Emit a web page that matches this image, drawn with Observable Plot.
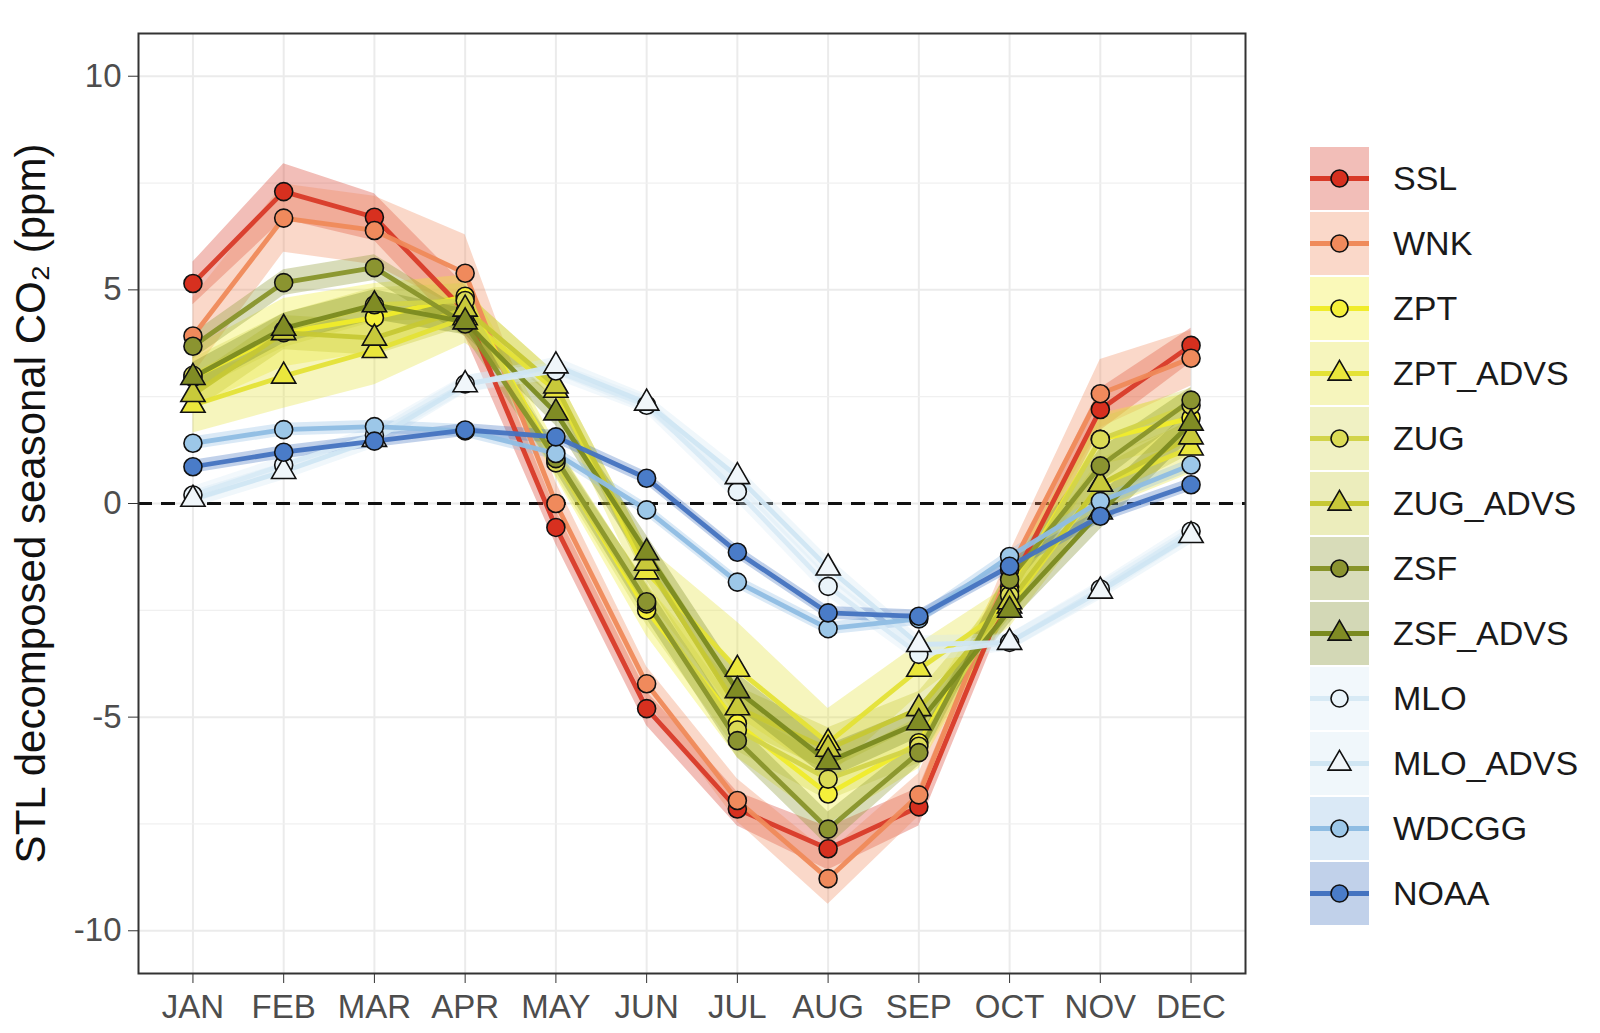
<!DOCTYPE html>
<html>
<head>
<meta charset="utf-8">
<script src="https://cdn.jsdelivr.net/npm/d3@7"></script>
<script src="https://cdn.jsdelivr.net/npm/@observablehq/plot@0.6"></script>
<style>
  html, body { margin: 0; padding: 0; background: white; }
  #wrap { position: relative; width: 1600px; height: 1033px; font-family: "Liberation Sans", Arial, sans-serif; }
  #legend { position: absolute; left: 1310px; top: 146px; }
  .row { display: flex; align-items: center; height: 65px; }
  .row span { margin-left: 24px; font-size: 34px; color: #1a1a1a; }
</style>
</head>
<body>
<div id="wrap"><div id="legend"></div></div>
<script>
// ---- data ----
const months = ["JAN","FEB","MAR","APR","MAY","JUN","JUL","AUG","SEP","OCT","NOV","DEC"];
const seriesNames = ["SSL","WNK","ZPT","ZPT_ADVS","ZUG","ZUG_ADVS","ZSF","ZSF_ADVS","MLO","MLO_ADVS","WDCGG","NOAA"];
const yTicks = [-10, -5, 0, 5, 10];
const yMinor = [-7.5, -2.5, 2.5, 7.5];

const SSL      = [5.15, 7.30, 6.70, 4.50, -0.56, -4.80, -7.15, -8.08, -7.10, -1.95, 2.20, 3.70];
const WNK      = [3.92, 6.68, 6.39, 5.39,  0.00, -4.22, -6.95, -8.78, -6.82, -1.55, 2.57, 3.40];
const ZPT      = [2.95, 4.00, 4.35, 4.85,  1.00, -2.50, -5.15, -6.80, -5.60, -2.05, 1.50, 2.00];
const ZPT_ADVS = [2.30, 2.98, 3.58, 4.35,  2.65, -1.60, -3.88, -5.60, -3.88, -2.40, 0.45, 1.30];
const ZUG      = [3.00, 4.05, 4.65, 4.75,  0.95, -2.35, -5.30, -6.45, -5.68, -2.15, 1.50, 2.30];
const ZUG_ADVS = [2.55, 4.00, 3.87, 4.55,  2.75, -1.40, -4.78, -5.75, -4.80, -2.30, 0.45, 1.56];
const ZSF      = [3.68, 5.17, 5.52, 4.20,  1.05, -2.30, -5.55, -7.62, -5.83, -1.78, 0.88, 2.42];
const ZSF_ADVS = [2.95, 4.10, 4.65, 4.25,  2.12, -1.15, -4.38, -6.05, -5.13, -2.50, -0.20, 1.88];
const MLO      = [0.20, 0.90, 1.60, 2.80,  3.10,  2.30,  0.28, -1.94, -3.53, -3.25, -2.00, -0.65];
const MLO_ADVS = [0.10, 0.75, 1.50, 2.78,  3.22,  2.35,  0.63, -1.51, -3.30, -3.25, -2.05, -0.75];
const WDCGG    = [1.41, 1.73, 1.80, 1.70,  1.17, -0.15, -1.84, -2.93, -2.70, -1.24, 0.05, 0.90];
const NOAA     = [0.86, 1.20, 1.46, 1.72,  1.56,  0.59, -1.14, -2.56, -2.64, -1.47, -0.30, 0.44];

// half-width of the shaded uncertainty band
const SSL_w      = [0.50, 0.65, 0.55, 0.60, 0.40, 0.40, 0.40, 0.50, 0.45, 0.40, 0.50, 0.40];
const WNK_w      = [0.90, 0.80, 0.80, 0.90, 0.50, 0.40, 0.50, 0.60, 0.50, 0.40, 0.80, 0.65];
const ZPT_w      = [0.70, 0.80, 0.80, 0.50, 0.40, 0.60, 0.80, 0.70, 0.60, 0.50, 0.60, 0.60];
const ZPT_ADVS_w = [0.65, 0.75, 0.80, 0.60, 0.40, 0.60, 1.10, 0.80, 0.60, 0.50, 0.60, 0.60];
const ZUG_w      = [0.40, 0.40, 0.40, 0.40, 0.30, 0.50, 0.50, 0.50, 0.40, 0.40, 0.50, 0.40];
const ZUG_ADVS_w = [0.40, 0.40, 0.40, 0.40, 0.30, 0.40, 0.50, 0.50, 0.40, 0.40, 0.40, 0.40];
const ZSF_w      = [0.30, 0.30, 0.30, 0.30, 0.30, 0.40, 0.40, 0.40, 0.30, 0.30, 0.40, 0.30];
const ZSF_ADVS_w = [0.35, 0.35, 0.35, 0.30, 0.30, 0.40, 0.40, 0.40, 0.35, 0.30, 0.40, 0.35];
const MLO_w      = [0.20, 0.20, 0.20, 0.20, 0.20, 0.20, 0.25, 0.25, 0.20, 0.20, 0.20, 0.20];
const MLO_ADVS_w = [0.20, 0.20, 0.20, 0.20, 0.20, 0.20, 0.25, 0.25, 0.20, 0.20, 0.20, 0.20];
const WDCGG_w    = [0.15, 0.15, 0.15, 0.15, 0.15, 0.15, 0.15, 0.15, 0.15, 0.15, 0.15, 0.15];
const NOAA_w     = [0.15, 0.15, 0.15, 0.15, 0.15, 0.15, 0.15, 0.15, 0.15, 0.15, 0.15, 0.15];

const values = [SSL, WNK, ZPT, ZPT_ADVS, ZUG, ZUG_ADVS, ZSF, ZSF_ADVS, MLO, MLO_ADVS, WDCGG, NOAA];
const widths = [SSL_w, WNK_w, ZPT_w, ZPT_ADVS_w, ZUG_w, ZUG_ADVS_w, ZSF_w, ZSF_ADVS_w, MLO_w, MLO_ADVS_w, WDCGG_w, NOAA_w];

// ---- styles ----
const lineColors = ["#d83a28","#ef8a5a","#f0ec2a","#e4e236","#d2d44a","#c6c834","#88942a","#7a8a20","#d8eaf5","#d0e6f3","#8fbde3","#4473c0"];
const dotColors  = ["#d7301f","#f08a5c","#f5f03a","#eae63c","#dcdc56","#c8c93a","#8b9430","#808c24","#eaf4fa","#f0f6fa","#9cc7e8","#4a7cc8"];
const shapes     = ["circle","circle","circle","triangle","circle","triangle","circle","triangle","circle","triangle","circle","circle"];
const bandOpacity = 0.33;

const rows = [];
seriesNames.forEach((s, k) => {
  months.forEach((m, i) => {
    rows.push({series: s, month: m, value: values[k][i],
      lo: values[k][i] - widths[k][i], hi: values[k][i] + widths[k][i],
      line: lineColors[k], dot: dotColors[k], shape: shapes[k]});
  });
});

const title = "STL decomposed seasonal CO\u2082 (ppm)";

const chart = Plot.plot({
  width: 1600, height: 1033,
  marginLeft: 138, marginRight: 355, marginTop: 33, marginBottom: 60,
  style: {fontFamily: "'Liberation Sans', Arial, sans-serif", fontSize: "33px", color: "#4d4d4d", background: "white"},
  x: {type: "point", domain: months, padding: 0.6, round: false},
  y: {domain: [-11, 11]},
  marks: [
    Plot.gridX(months, {stroke: "#ebebeb", strokeOpacity: 1, strokeWidth: 2}),
    Plot.gridY(yMinor, {stroke: "#f0f0f0", strokeOpacity: 1, strokeWidth: 1.2}),
    Plot.gridY(yTicks, {stroke: "#ebebeb", strokeOpacity: 1, strokeWidth: 2}),
    Plot.ruleY([0], {stroke: "#111", strokeWidth: 3, strokeDasharray: "14,9"}),
    Plot.areaY(rows, {x: "month", y1: "lo", y2: "hi", z: "series", fill: "line", fillOpacity: bandOpacity}),
    Plot.line(rows, {x: "month", y: "value", z: "series", stroke: "line", strokeWidth: 4.8, strokeOpacity: 0.95}),
    Plot.dot(rows, {x: "month", y: "value", fill: "dot", symbol: "shape", r: 9, stroke: "#111", strokeWidth: 1.6}),
    Plot.frame({stroke: "#333", strokeWidth: 2}),
    Plot.axisY(yTicks, {tickSize: 10, tickPadding: 7, tickFormat: d => String(d), label: null, stroke: "#333"}),
    Plot.axisX(months, {tickSize: 10, tickPadding: 11, label: null, stroke: "#333"}),
    Plot.text([title], {frameAnchor: "left", rotate: -90, dx: -107, fontSize: 42, fill: "#111", textAnchor: "middle"})
  ]
});
const wrap = document.getElementById("wrap");
chart.style.position = "absolute";
chart.style.left = "0px";
chart.style.top = "0px";
wrap.insertBefore(chart, wrap.firstChild);

// ---- legend ----
const legend = d3.select("#legend");
seriesNames.forEach((s, k) => {
  const row = legend.append("div").attr("class", "row");
  const svg = row.append("svg").attr("width", 59).attr("height", 63);
  svg.append("rect").attr("width", 59).attr("height", 63).attr("fill", lineColors[k]).attr("fill-opacity", bandOpacity);
  svg.append("line").attr("x1", 0).attr("x2", 59).attr("y1", 31.5).attr("y2", 31.5)
    .attr("stroke", lineColors[k]).attr("stroke-width", 4.8);
  const sym = shapes[k] === "circle" ? d3.symbolCircle : d3.symbolTriangle;
  svg.append("path").attr("transform", "translate(29.5,31.5)")
    .attr("d", d3.symbol(sym, Math.PI * 8.5 * 8.5)())
    .attr("fill", dotColors[k]).attr("stroke", "#111").attr("stroke-width", 1.6);
  row.append("span").text(s);
});
</script>
</body>
</html>
